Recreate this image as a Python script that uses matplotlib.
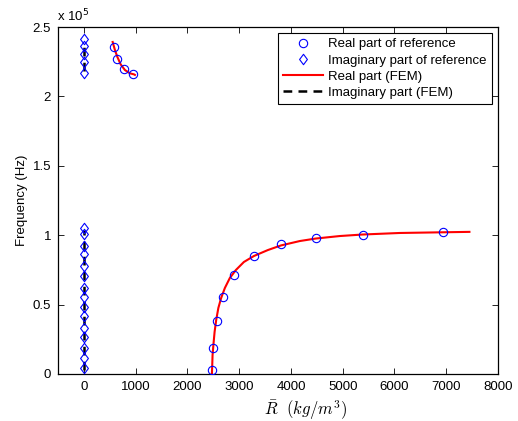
import numpy as np
import matplotlib
matplotlib.use("Agg")
import matplotlib.pyplot as plt
from matplotlib.path import Path
from matplotlib.ticker import FuncFormatter

# ---- data ----
# Real part of reference (circles)
real_ref_x = [575, 633, 774, 942,
              2479, 2498, 2569, 2691, 2903, 3284, 3805, 4475, 5394, 6932]
real_ref_y = [235.4e3, 226.9e3, 219.7e3, 216.1e3,
              2.7e3, 18.5e3, 38.2e3, 55.7e3, 71.5e3, 85.2e3, 93.4e3, 98.0e3, 100.1e3, 102.1e3]

# Imaginary part of reference (diamonds), all at x = 0
imag_ref_y = [241.6e3, 236.5e3, 230.5e3, 224.6e3, 217.1e3,
              105.4e3, 100.9e3, 92.4e3, 86.5e3, 77.8e3, 70.4e3, 62.2e3, 55.3e3,
              48.5e3, 41.6e3, 32.9e3, 26.4e3, 18.7e3, 11.3e3, 4.1e3]
imag_ref_x = [0] * len(imag_ref_y)

# Real part (FEM), upper branch
fem_real_up_x = [556, 600, 645, 710, 793, 890, 967, 986]
fem_real_up_y = [239.2e3, 233.4e3, 228.6e3, 223.1e3, 219.0e3, 216.6e3, 215.9e3, 215.5e3]
# Real part (FEM), lower branch
fem_real_lo_x = [2473, 2479, 2486, 2502, 2525, 2556, 2598, 2652, 2724, 2820, 2936,
                 3091, 3284, 3554, 3805, 4172, 4481, 4944, 5388, 6102, 6932, 7448]
fem_real_lo_y = [0.0, 5.8e3, 13.7e3, 20.9e3, 30.3e3, 38.9e3, 47.6e3, 54.8e3, 62.0e3,
                 69.2e3, 74.9e3, 80.7e3, 85.0e3, 89.3e3, 92.6e3, 95.8e3, 97.6e3,
                 99.4e3, 100.5e3, 101.6e3, 102.1e3, 102.4e3]

# Imaginary part (FEM): vertical segments at x = 0
fem_imag_lo_y = [3.0e3, 104.0e3]
fem_imag_up_y = [218.0e3, 240.0e3]

xticks = [0, 1000, 2000, 3000, 4000, 5000, 6000, 7000, 8000]
yticks = [0, 0.5e5, 1.0e5, 1.5e5, 2.0e5, 2.5e5]

# ---- style ----
plt.rcParams['font.family'] = ['Liberation Sans', 'DejaVu Sans']
plt.rcParams['mathtext.fontset'] = 'cm'
FS = 9.5

diamond = Path([(0, 1), (0.75, 0), (0, -1), (-0.75, 0), (0, 1)],
               [Path.MOVETO, Path.LINETO, Path.LINETO, Path.LINETO, Path.CLOSEPOLY])

fig = plt.figure(figsize=(5.18, 4.21), dpi=100)
ax = fig.add_axes([58 / 518, 1 - 374 / 421, 440 / 518, 347 / 421])

ax.plot(fem_real_up_x, fem_real_up_y, '-', color='#ff0000', lw=1.5, zorder=2)
ax.plot(fem_real_lo_x, fem_real_lo_y, '-', color='#ff0000', lw=1.5, zorder=2,
        label='Real part (FEM)')
ax.plot([0, 0], fem_imag_lo_y, '--', color='black', lw=1.8, dashes=(3.5, 2.5), zorder=2,
        label='Imaginary part (FEM)')
ax.plot([0, 0], fem_imag_up_y, '--', color='black', lw=1.8, dashes=(3.5, 2.5), zorder=2)

ax.plot(real_ref_x, real_ref_y, linestyle='none', marker='o', ms=6, mfc='none',
        mec='#0000ff', mew=0.8, zorder=3, label='Real part of reference')
ax.plot(imag_ref_x, imag_ref_y, linestyle='none', marker=diamond, ms=7.5, mfc='none',
        mec='#0000ff', mew=0.8, zorder=3, label='Imaginary part of reference')

ax.set_xlim(-500, 8000)
ax.set_ylim(0, 2.5e5)
ax.set_xticks(xticks)
ax.set_yticks(yticks)
ax.yaxis.set_major_formatter(FuncFormatter(lambda v, p: ('%g' % (v / 1e5))))
ax.tick_params(direction='in', top=True, right=True, labelsize=FS, length=4,
               width=0.6, pad=5)
for s in ax.spines.values():
    s.set_linewidth(0.9)

fig.text(57 / 518, 1 - 16 / 421, r'x 10$^{5}$', fontsize=FS, ha='left', va='center',
         math_fontfamily='dejavusans')
fig.text(22 / 518, 1 - 200 / 421, 'Frequency (Hz)', fontsize=FS, rotation=90,
         ha='center', va='center')
fig.text(306 / 518, 1 - 410 / 421, r'$\bar{R}\ \ (kg/m^3)$', fontsize=12,
         ha='center', va='center')

h, l = ax.get_legend_handles_labels()
order = [2, 3, 0, 1]
leg = ax.legend([h[i] for i in order], [l[i] for i in order], loc='upper right',
                fontsize=FS, frameon=True, fancybox=False, edgecolor='black',
                framealpha=1, borderpad=0.4, labelspacing=0.3, handlelength=3.0,
                handletextpad=0.4, borderaxespad=0.45, numpoints=1)
leg.get_frame().set_linewidth(0.8)

fig.savefig('out.png', dpi=100)
